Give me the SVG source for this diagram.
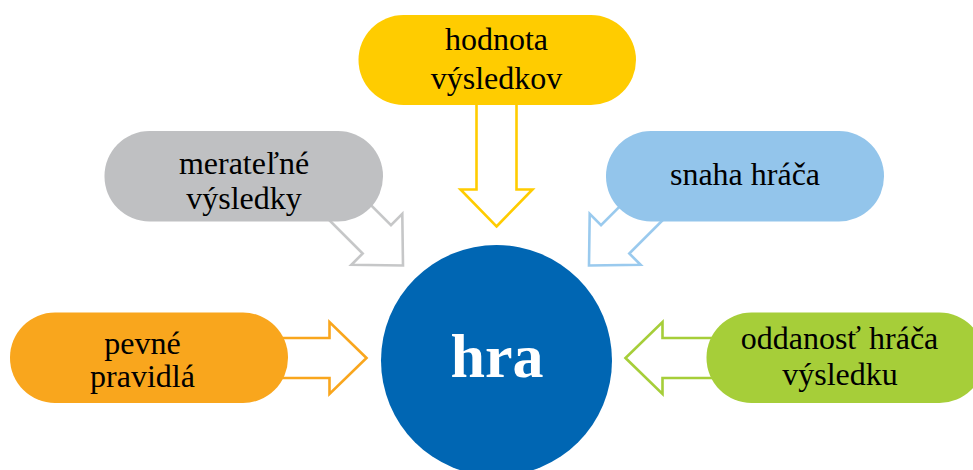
<svg xmlns="http://www.w3.org/2000/svg" width="973" height="470" viewBox="0 0 973 470">
  <defs>
    <style>
      .lbl { font-family: "Liberation Serif", "Times New Roman", serif; font-size: 32px; fill: #000; text-anchor: middle; }
      .hub { font-family: "Liberation Serif", "Times New Roman", serif; font-size: 62px; font-weight: bold; fill: #fff; text-anchor: middle; }
      .arr { fill: #fff; stroke-width: 2.6; stroke-linejoin: miter; }
    </style>
    <!-- block arrow pointing along +x, tip at the origin -->
    <path id="blockArrow" d="M0,0 L-37,-36 L-37,-20 L-105,-20 L-105,20 L-37,20 L-37,36 Z"/>
    <path id="blockArrowLong" d="M0,0 L-37,-36 L-37,-20 L-130,-20 L-130,20 L-37,20 L-37,36 Z"/>
  </defs>

  <rect width="973" height="470" fill="#fff"/>

  <!-- connectors: hollow block arrows from each factor towards the hub -->
  <g id="connectors">
    <use href="#blockArrowLong" class="arr" stroke="#FFCC00" transform="translate(496.5,226.5) rotate(90)"/>
    <use href="#blockArrow" class="arr" stroke="#C6C7C8" transform="translate(403,265.5) rotate(45)"/>
    <use href="#blockArrow" class="arr" stroke="#9ACAEE" transform="translate(589,265.5) rotate(135)"/>
    <use href="#blockArrow" class="arr" stroke="#F9A61D" transform="translate(366.5,358)"/>
    <use href="#blockArrow" class="arr" stroke="#A6CE39" transform="translate(625.5,358) rotate(180)"/>
  </g>

  <g id="node-hodnota">
    <rect x="358.5" y="15" width="277.5" height="90" rx="45" fill="#FFCC00"/>
    <text class="lbl" x="496.5" y="49.5">hodnota</text>
    <text class="lbl" x="496.5" y="88.5">výsledkov</text>
  </g>

  <g id="node-meratelne">
    <rect x="104.5" y="131" width="278.5" height="90.5" rx="45" fill="#BFC0C2"/>
    <text class="lbl" x="244" y="173.5">merateľné</text>
    <text class="lbl" x="244" y="208.5">výsledky</text>
  </g>

  <g id="node-snaha">
    <rect x="606" y="131" width="278" height="90.5" rx="45" fill="#93C5EB"/>
    <text class="lbl" x="745" y="185">snaha hráča</text>
  </g>

  <g id="node-pravidla">
    <rect x="10" y="312.5" width="278" height="90.5" rx="45" fill="#F9A61D"/>
    <text class="lbl" x="142.5" y="353.5">pevné</text>
    <text class="lbl" x="142.5" y="386.5">pravidlá</text>
  </g>

  <g id="node-oddanost">
    <rect x="706.5" y="312.5" width="278" height="90.5" rx="45" fill="#A6CE39"/>
    <text class="lbl" x="839.5" y="348.5">oddanosť hráča</text>
    <text class="lbl" x="840" y="385">výsledku</text>
  </g>

  <g id="node-hra">
    <circle cx="496.5" cy="360.5" r="115.5" fill="#0066B3"/>
    <text class="hub" x="497" y="377">hra</text>
  </g>
</svg>
